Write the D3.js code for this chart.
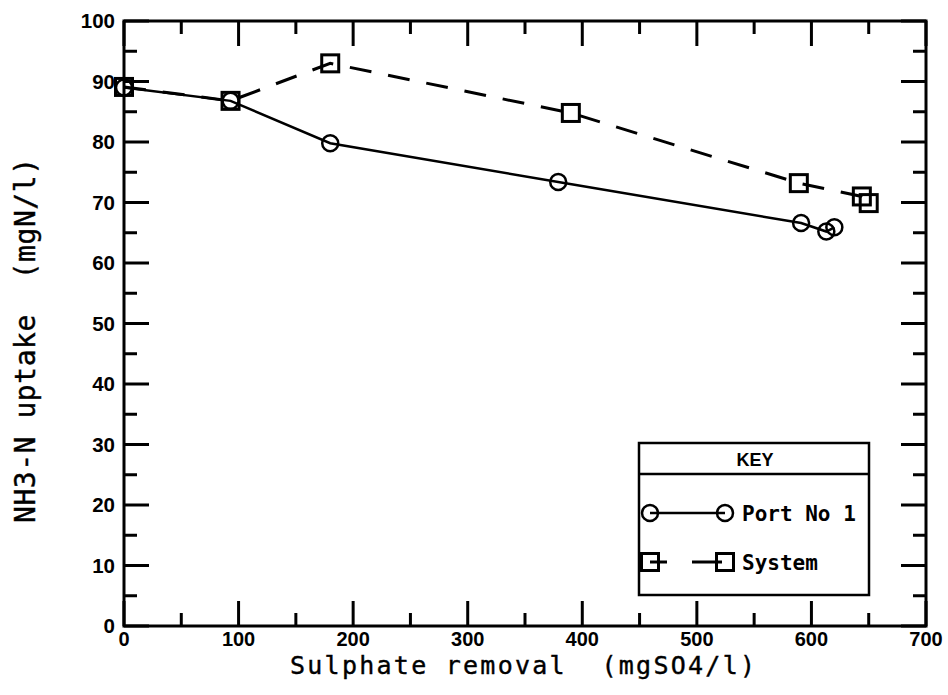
<!DOCTYPE html>
<html>
<head>
<meta charset="utf-8">
<script src="https://cdn.jsdelivr.net/npm/d3@7/dist/d3.min.js"></script>
<style>
  html, body { margin: 0; padding: 0; background: #fff; }
  svg { display: block; }
  .mono { font-family: "DejaVu Sans Mono", monospace; white-space: pre; }
</style>
</head>
<body>
<svg id="chart" width="948" height="695"></svg>
<script>
// Port No 1 sampling point
const portX = [0, 93, 180, 379, 591, 613, 620];
const portY = [89.0, 86.8, 79.8, 73.4, 66.6, 65.2, 65.9];
// Whole system
const systemX = [0, 93, 180, 390, 589, 644, 650];
const systemY = [89.1, 86.8, 93.0, 84.8, 73.2, 71.0, 69.9];

const xTicks = [0, 100, 200, 300, 400, 500, 600, 700];
const yTicks = [0, 10, 20, 30, 40, 50, 60, 70, 80, 90, 100];
const xMinor = [50, 150, 250, 350, 450, 550, 650];
const yMinor = [5, 15, 25, 35, 45, 55, 65, 75, 85, 95];

const xTitle = "Sulphate removal  (mgSO4/l)";
const yTitle = "NH3-N uptake  (mgN/l)";
const legendTitle = "KEY";
const seriesNames = ["Port No 1", "System"];

const svg = d3.select("#chart");
const L = 124, R = 926, T = 21, B = 626;

const x = d3.scaleLinear().domain([0, 700]).range([L, R]);
const y = d3.scaleLinear().domain([0, 100]).range([B, T]);

const tickFont = "Liberation Sans, Arial, sans-serif";
const major = 25, minor = 13;

// frame
svg.append("rect")
  .attr("x", L).attr("y", T).attr("width", R - L).attr("height", B - T)
  .attr("fill", "none").attr("stroke", "#000").attr("stroke-width", 3);

// inward ticks on all four sides
const g = svg.append("g").attr("stroke", "#000").attr("stroke-width", 3);
xTicks.forEach(v => {
  g.append("line").attr("x1", x(v)).attr("x2", x(v)).attr("y1", B).attr("y2", B - major);
  g.append("line").attr("x1", x(v)).attr("x2", x(v)).attr("y1", T).attr("y2", T + major);
});
xMinor.forEach(v => {
  g.append("line").attr("x1", x(v)).attr("x2", x(v)).attr("y1", B).attr("y2", B - minor);
  g.append("line").attr("x1", x(v)).attr("x2", x(v)).attr("y1", T).attr("y2", T + minor);
});
yTicks.forEach(v => {
  g.append("line").attr("y1", y(v)).attr("y2", y(v)).attr("x1", L).attr("x2", L + major);
  g.append("line").attr("y1", y(v)).attr("y2", y(v)).attr("x1", R).attr("x2", R - major);
});
yMinor.forEach(v => {
  g.append("line").attr("y1", y(v)).attr("y2", y(v)).attr("x1", L).attr("x2", L + minor);
  g.append("line").attr("y1", y(v)).attr("y2", y(v)).attr("x1", R).attr("x2", R - minor);
});

// tick labels
svg.append("g").selectAll("text").data(xTicks).join("text")
  .attr("x", d => x(d)).attr("y", 646)
  .attr("text-anchor", "middle")
  .attr("font-family", tickFont).attr("font-weight", "bold").attr("font-size", 20)
  .text(d => d);
svg.append("g").selectAll("text").data(yTicks).join("text")
  .attr("x", 115).attr("y", d => y(d)).attr("dy", "0.36em")
  .attr("text-anchor", "end")
  .attr("font-family", tickFont).attr("font-weight", "bold").attr("font-size", 20.5)
  .text(d => d);

// axis titles
svg.append("text").attr("class", "mono")
  .attr("x", 290).attr("y", 674)
  .attr("font-size", 25).attr("textLength", 465).attr("lengthAdjust", "spacing")
  .attr("stroke", "#000").attr("stroke-width", 0.4)
  .text(xTitle);
svg.append("text").attr("class", "mono")
  .attr("transform", "translate(35,523) rotate(-90)")
  .attr("font-size", 28).attr("textLength", 365).attr("lengthAdjust", "spacing")
  .attr("stroke", "#000").attr("stroke-width", 0.4)
  .text(yTitle);

// series
const line = d3.line().x(d => x(d[0])).y(d => y(d[1]));
const portData = portX.map((v, i) => [v, portY[i]]);
const systemData = systemX.map((v, i) => [v, systemY[i]]);

const plot = svg.append("g");
plot.append("path").datum(systemData).attr("d", line)
  .attr("fill", "none").attr("stroke", "#000").attr("stroke-width", 3)
  .attr("stroke-dasharray", "22,17");
plot.append("path").datum(portData).attr("d", line)
  .attr("fill", "none").attr("stroke", "#000").attr("stroke-width", 2.5);

const sq = 17, cr = 8;
plot.selectAll("rect.sys").data(systemData).join("rect").attr("class", "sys")
  .attr("x", d => x(d[0]) - sq / 2).attr("y", d => y(d[1]) - sq / 2)
  .attr("width", sq).attr("height", sq)
  .attr("fill", "none").attr("stroke", "#000").attr("stroke-width", 3);
plot.selectAll("circle.port").data(portData).join("circle").attr("class", "port")
  .attr("cx", d => x(d[0])).attr("cy", d => y(d[1])).attr("r", cr)
  .attr("fill", "none").attr("stroke", "#000").attr("stroke-width", 2.5);

// legend
const lg = svg.append("g");
lg.append("rect").attr("x", 639).attr("y", 443).attr("width", 230).attr("height", 152)
  .attr("fill", "#fff").attr("stroke", "#000").attr("stroke-width", 2.5);
lg.append("line").attr("x1", 639).attr("x2", 869).attr("y1", 474).attr("y2", 474)
  .attr("stroke", "#000").attr("stroke-width", 2.5);
lg.append("text").attr("x", 755).attr("y", 466).attr("text-anchor", "middle")
  .attr("font-family", tickFont).attr("font-weight", "bold").attr("font-size", 18)
  .text(legendTitle);

const r1 = 513, r2 = 562, lx0 = 650, lx1 = 725;
lg.append("line").attr("x1", lx0).attr("x2", lx1).attr("y1", r1).attr("y2", r1)
  .attr("stroke", "#000").attr("stroke-width", 2.5);
[lx0, lx1].forEach(cx => lg.append("circle").attr("cx", cx).attr("cy", r1).attr("r", cr)
  .attr("fill", "none").attr("stroke", "#000").attr("stroke-width", 2.5));
lg.append("line").attr("x1", lx0).attr("x2", lx1).attr("y1", r2).attr("y2", r2)
  .attr("stroke", "#000").attr("stroke-width", 3).attr("stroke-dasharray", "17,25,30");
[lx0, lx1].forEach(cx => lg.append("rect").attr("x", cx - sq / 2).attr("y", r2 - sq / 2)
  .attr("width", sq).attr("height", sq)
  .attr("fill", "none").attr("stroke", "#000").attr("stroke-width", 3));
seriesNames.forEach((name, i) => {
  lg.append("text").attr("class", "mono")
    .attr("x", 742).attr("y", (i ? r2 : r1)).attr("dy", "0.36em")
    .attr("font-weight", "bold").attr("font-size", 21)
    .text(name);
});
</script>
</body>
</html>
